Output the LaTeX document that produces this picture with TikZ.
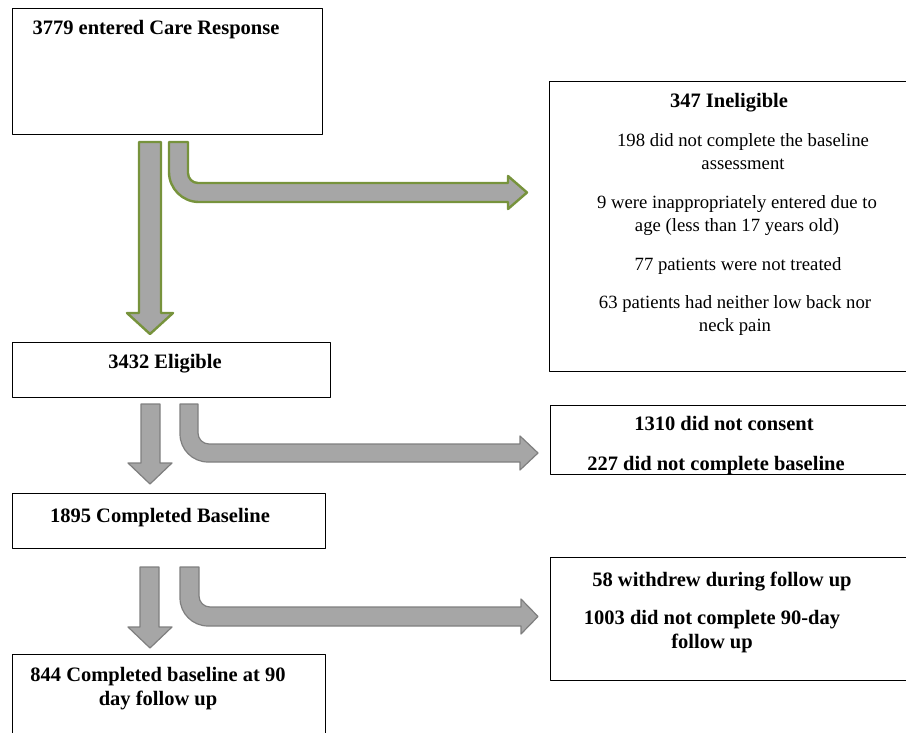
\documentclass[tikz,border=0pt]{standalone}
\usepackage{fontspec}
\setmainfont{Liberation Serif}
\usepackage{tikz}
\usepackage{xcolor}
\definecolor{arrowfill}{HTML}{A6A6A6}
\definecolor{arrowgreen}{HTML}{77933C}
\definecolor{arrowgray}{HTML}{7F7F7F}

\begin{document}
\begin{tikzpicture}[x=1pt,y=-1pt,line join=round,
  box/.style={draw=black,line width=1.2pt,anchor=north west,inner sep=0pt},
  headtext/.style={font=\fontsize{20.5}{24}\selectfont\bfseries,anchor=base,align=center,inner sep=0pt},
  bodytext/.style={font=\fontsize{18.7}{23}\selectfont,anchor=base,align=center,inner sep=0pt},
  greenblock/.style={fill=arrowfill,draw=arrowgreen,line width=2.4pt},
  grayblock/.style={fill=arrowfill,draw=arrowgray,line width=1.2pt}]
\useasboundingbox (0,0) rectangle (906,732);
\begin{scope}
\clip (0,0) rectangle (906,732);
\node[box,minimum width=310,minimum height=126] (entered) at (12,8) {};
\node[box,minimum width=361,minimum height=290] (inelig) at (549,81) {};
\node[box,minimum width=318,minimum height=55] (elig) at (12,342) {};
\node[box,minimum width=360,minimum height=69] (consent) at (550,405) {};
\node[box,minimum width=313,minimum height=55] (baseline) at (12,493) {};
\node[box,minimum width=360,minimum height=123] (withdrew) at (550,557) {};
\node[box,minimum width=313,minimum height=90] (followup) at (12,654) {};
\end{scope}
% multi-line texts sit on the baseline of their last line
\node[headtext] (enteredT) at (156,34) {3779 entered Care Response};
\node[headtext] (ineligT) at (729,107) {347 Ineligible};
\node[bodytext] (inelA) at (743,169) {198 did not complete the baseline\\assessment};
\node[bodytext] (inelB) at (737,231) {9 were inappropriately entered due to\\age (less than 17 years old)};
\node[bodytext] (inelC) at (738,270) {77 patients were not treated};
\node[bodytext] (inelD) at (735,331) {63 patients had neither low back nor\\neck pain};
\node[headtext] (eligT) at (165,368) {3432 Eligible};
\node[headtext] (consentA) at (724,430) {1310 did not consent};
\node[headtext] (consentB) at (716,470) {227 did not complete baseline};
\node[headtext] (baselineT) at (160,522) {1895 Completed Baseline};
\node[headtext] (withdrewA) at (722,586) {58 withdrew during follow up};
\node[headtext] (withdrewB) at (712,648) {1003 did not complete 90-day\\follow up};
\node[headtext] (followupT) at (158,705) {844 Completed baseline at 90\\day follow up};
\draw[greenblock] (139,142) -- (161,142) -- (161,313) -- (173,313) -- (150,334) -- (127,313) -- (139,313) -- cycle;
\draw[greenblock] (169,142) -- (188,142) [rounded corners=10] -- (188,183) [sharp corners] -- (508,183) -- (508,176) -- (527,192.5) -- (508,209) -- (508,202) [rounded corners=30] -- (169,202) [sharp corners] -- cycle;
\draw[grayblock] (141,404) -- (160,404) -- (160,463) -- (172,463) -- (150,484) -- (128,463) -- (141,463) -- cycle;
\draw[grayblock] (180,404) -- (198,404) [rounded corners=11] -- (198,444) [sharp corners] -- (520,444) -- (520,436) -- (538,453) -- (520,470) -- (520,462) [rounded corners=28] -- (180,462) [sharp corners] -- cycle;
\draw[grayblock] (140,567) -- (159,567) -- (159,627) -- (172,627) -- (150,648) -- (128,627) -- (140,627) -- cycle;
\draw[grayblock] (180,567) -- (199,567) [rounded corners=11] -- (199,607) [sharp corners] -- (521,607) -- (521,599) -- (538,616.5) -- (521,634) -- (521,626) [rounded corners=28] -- (180,626) [sharp corners] -- cycle;
\end{tikzpicture}
\end{document}
